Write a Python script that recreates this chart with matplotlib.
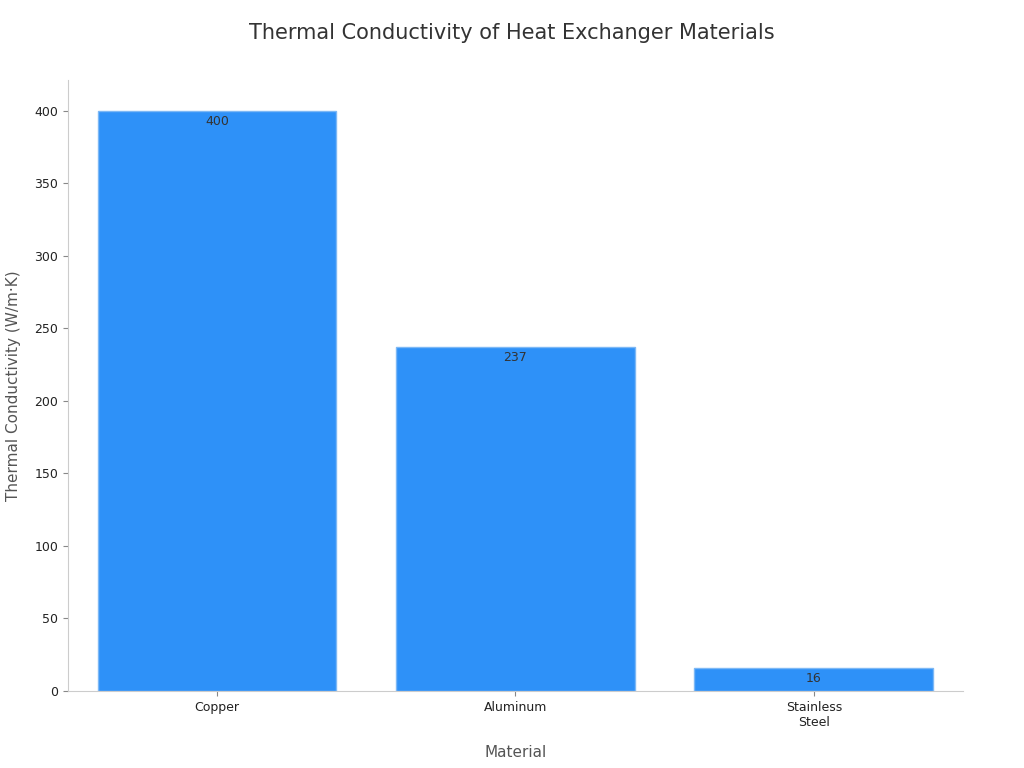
import matplotlib
matplotlib.use("Agg")
import matplotlib.pyplot as plt

materials = ["Copper", "Aluminum", "Stainless\nSteel"]
conductivity = [400, 237, 16]

fig = plt.figure(figsize=(10.24, 7.68), dpi=100)
ax = fig.add_axes([0.0664, 0.1003, 0.874, 0.7955])
x = range(len(materials))
bars = ax.bar(x, conductivity, width=0.8, color="#2E91F8", edgecolor="#7DB8F5", linewidth=1)
for xi, v in zip(x, conductivity):
    ax.text(xi, v - 3, str(v), ha="center", va="top", fontsize=9, color="#333333")
ax.set_xlim(-0.5, 2.5)
ax.set_ylim(0, 421)
ax.set_xticks(list(x))
ax.set_xticklabels(materials, fontsize=9, color="#222222")
ax.set_yticks(range(0, 401, 50))
ax.tick_params(axis="y", labelsize=9, colors="#222222")
ax.tick_params(axis="both", color="#888888")
for s in ["top", "right"]:
    ax.spines[s].set_visible(False)
for s in ["left", "bottom"]:
    ax.spines[s].set_color("#cccccc")
ax.set_xlabel("Material", fontsize=11, color="#555555", labelpad=12)
ax.set_ylabel("Thermal Conductivity (W/m·K)", fontsize=11, color="#555555", labelpad=10)
fig.suptitle("Thermal Conductivity of Heat Exchanger Materials", fontsize=15, color="#333333", y=0.97)
fig.savefig("out.png", dpi=100)
